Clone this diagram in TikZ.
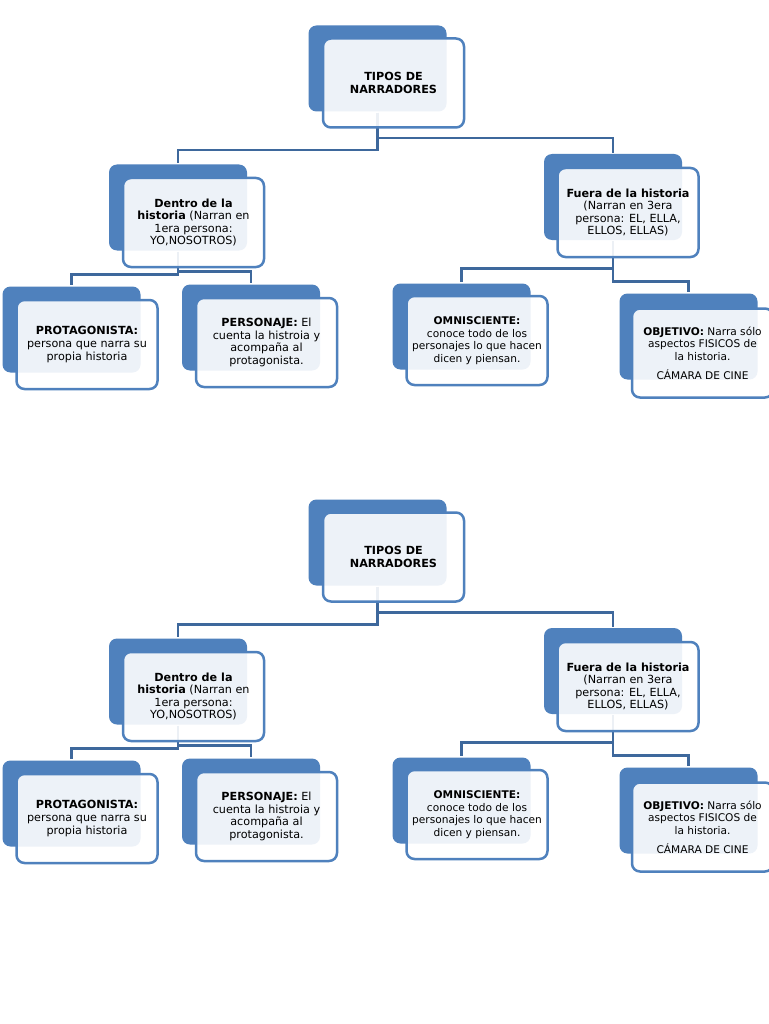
\documentclass[tikz,border=0pt]{standalone}
\usepackage{fontspec}
\setmainfont{DejaVu Sans}
\definecolor{boxblue}{RGB}{79,129,189}
\definecolor{linkblue}{RGB}{62,104,156}
\begin{document}
\begin{tikzpicture}[x=1pt, y=-1pt,
                    font=\fontsize{11.2}{12.6}\selectfont,
                    line width=2.5pt]
    \tikzstyle{backbox}=[rounded corners=8pt, fill=boxblue, minimum width=138pt, minimum height=86pt, inner sep=0pt]
    \tikzstyle{frontbox}=[rounded corners=8pt, draw=boxblue, fill=white, fill opacity=0.9, text opacity=1,
                          minimum width=141pt, minimum height=89pt, inner sep=2pt, align=center]
    \tikzstyle{link}=[draw=linkblue, line width=2.5pt]

    \useasboundingbox (0,0) rectangle (768,1024);
    \fill[white] (0,0) rectangle (768,1024);

    \foreach \dy in {0,474} {
    \begin{scope}[yshift=-\dy pt]
        % back blocks
        \node[backbox] (tiposb) at (377.5,68.5) {};
        \node[backbox] (dentrob) at (178,207.5) {};
        \node[backbox] (fuerab) at (613,197) {};
        \node[backbox] (protab) at (71.5,329.5) {};
        \node[backbox] (persob) at (251,327.5) {};
        \node[backbox] (omnib) at (461.5,326.5) {};
        \node[backbox] (objeb) at (688.5,336.5) {};

        % connectors
        \draw[link] (tiposb.south) -- ++(0,37.5) -| (dentrob.north);
        \draw[link] (tiposb.south) -- ++(0,25.5) -| (fuerab.north);
        \draw[link] (dentrob.south) -- ++(0,22.5) -| (protab.north);
        \draw[link] (dentrob.south) -- ++(0,19.5) -| (persob.north);
        \draw[link] (fuerab.south) -- ++(0,27) -| (omnib.north);
        \draw[link] (fuerab.south) -- ++(0,40) -| (objeb.north);

        % front blocks
        \node[frontbox] (tipos) at ([shift={(16,14.5)}]tiposb.center) {\textbf{TIPOS DE}\\\textbf{NARRADORES}};
        \node[frontbox] (dentro) at ([shift={(15.5,15)}]dentrob.center) {\textbf{Dentro de la}\\\textbf{historia} (Narran en\\1era persona:\\YO,NOSOTROS)};
        \node[frontbox] (fuera) at ([shift={(15,15.5)}]fuerab.center) {\textbf{Fuera de la historia}\\(Narran en 3era\\persona: EL, ELLA,\\ELLOS, ELLAS)};
        \node[frontbox] (prota) at ([shift={(15.5,15)}]protab.center) {\textbf{PROTAGONISTA:}\\persona que narra su\\propia historia};
        \node[frontbox] (perso) at ([shift={(15.5,15)}]persob.center) {\textbf{PERSONAJE:} El\\cuenta la histroia y\\acompaña al\\protagonista.};
        \node[frontbox, font=\fontsize{10.6}{12.6}\selectfont] (omni) at ([shift={(15.5,14)}]omnib.center) {\textbf{OMNISCIENTE:}\\conoce todo de los\\personajes lo que hacen\\dicen y piensan.};
        \node[frontbox, font=\fontsize{10.6}{12.6}\selectfont] (obje) at ([shift={(14,16.5)}]objeb.center) {\textbf{OBJETIVO:} Narra sólo\\aspectos FISICOS de\\la historia.\\[6pt]CÁMARA DE CINE};
    \end{scope}
    }
\end{tikzpicture}
\end{document}
